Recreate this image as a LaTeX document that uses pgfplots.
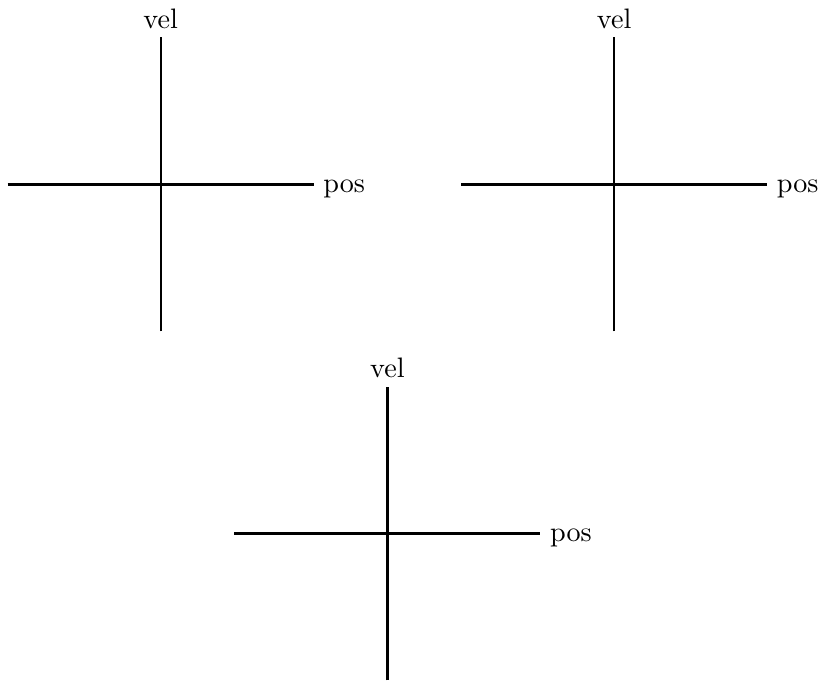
\documentclass[border=0pt]{standalone}
\usepackage{pgfplots}
\pgfplotsset{compat=1.18}
\pgfplotsset{phase/.style={
  scale only axis, width=119pt, height=114.3pt,
  axis lines=middle, axis line style={-, line width=0.9pt},
  xmin=-1, xmax=1, ymin=-1, ymax=1,
  xtick=\empty, ytick=\empty,
  xlabel={pos}, ylabel={vel},
  label style={font=\fontsize{10.95}{13.6}\selectfont},
  xlabel style={anchor=west, inner xsep=0.6pt, xshift=3pt, yshift=-1.9pt},
  ylabel style={anchor=south},
}}
\begin{document}
\begin{tikzpicture}
\begin{axis}[phase, at={(0pt,0pt)}]
\addplot[draw=none] coordinates {(0,0)};
\end{axis}
\begin{axis}[phase, at={(176.4pt,0pt)}]
\addplot[draw=none] coordinates {(0,0)};
\end{axis}
\begin{axis}[phase, at={(88.2pt,-135.8pt)}]
\addplot[draw=none] coordinates {(0,0)};
\end{axis}
\path (-3pt,0) ;
\end{tikzpicture}
\end{document}
